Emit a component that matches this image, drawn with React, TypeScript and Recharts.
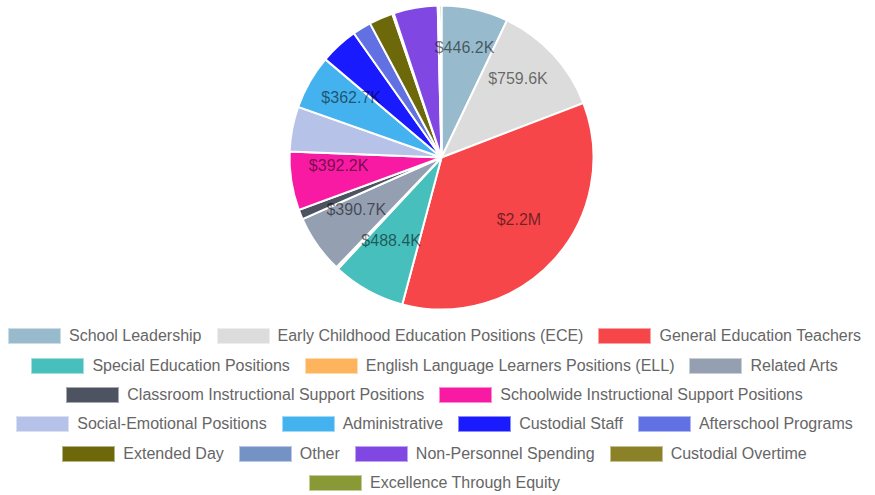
import React from 'react';
import { PieChart, Pie, Cell, Legend } from 'recharts';

const categories = [
  'School Leadership',
  'Early Childhood Education Positions (ECE)',
  'General Education Teachers',
  'Special Education Positions',
  'English Language Learners Positions (ELL)',
  'Related Arts',
  'Classroom Instructional Support Positions',
  'Schoolwide Instructional Support Positions',
  'Social-Emotional Positions',
  'Administrative',
  'Custodial Staff',
  'Afterschool Programs',
  'Extended Day',
  'Other',
  'Non-Personnel Spending',
  'Custodial Overtime',
  'Excellence Through Equity',
];

const values = [
  446200, 759600, 2200000, 488400, 15000, 390700, 65000, 392200, 300000,
  362700, 255000, 125000, 160000, 10000, 295000, 10000, 15000,
];

const colors = [
  '#97bbcd', '#dcdcdc', '#f7464a', '#46bfbd', '#fdb45c', '#949fb1', '#4d5360',
  '#f91aa3', '#b6c2e8', '#44b2ef', '#1a1aff', '#6171e4', '#6d690a', '#7592c4',
  '#8047e3', '#8b8228', '#889935',
];

const legendRowSizes = [3, 3, 2, 4, 4, 1];

const labelThreshold = 350000;

const data = categories.map((name, i) => ({ name, value: values[i], color: colors[i] }));

const fmt = (v: number) =>
  v >= 1000000 ? `$${(v / 1000000).toFixed(1)}M` : `$${(v / 1000).toFixed(1)}K`;

const RAD = Math.PI / 180;

const renderLabel = (props: any) => {
  const { cx, cy, midAngle, outerRadius, value } = props;
  if (value < labelThreshold) return null;
  const r = outerRadius * 0.685;
  const x = cx + r * Math.cos(-midAngle * RAD);
  const y = cy + r * Math.sin(-midAngle * RAD) - 8;
  return (
    <text
      x={x}
      y={y}
      textAnchor="middle"
      dominantBaseline="central"
      fill="rgba(0,0,0,0.55)"
      fontSize={16}
      fontFamily="'Liberation Sans', Arial, sans-serif"
    >
      {fmt(value)}
    </text>
  );
};

const LegendContent = () => {
  const rows: typeof data[] = [];
  let idx = 0;
  for (const n of legendRowSizes) {
    rows.push(data.slice(idx, idx + n));
    idx += n;
  }
  return (
    <div style={{ width: 869, fontFamily: "'Liberation Sans', Arial, sans-serif", fontSize: 16, color: '#666' }}>
      {rows.map((row, ri) => (
        <div
          key={ri}
          style={{ display: 'flex', justifyContent: 'center', alignItems: 'center', height: 29.4 }}
        >
          {row.map((d, i) => (
            <div
              key={d.name}
              style={{ display: 'flex', alignItems: 'center', marginLeft: i === 0 ? 0 : 15 }}
            >
              <span
                style={{
                  display: 'inline-block',
                  width: 53,
                  height: 16,
                  boxSizing: 'border-box',
                  background: d.color,
                  border: '1px solid rgba(255,255,255,0.5)',
                  marginRight: 8,
                }}
              />
              <span style={{ whiteSpace: 'nowrap' }}>{d.name}</span>
            </div>
          ))}
        </div>
      ))}
    </div>
  );
};

export default function App() {
  return (
    <div style={{ position: 'absolute', left: 0, top: 0, width: 875, height: 495, background: '#fff' }}>
      <PieChart width={875} height={495} margin={{ top: 0, right: 0, bottom: 0, left: 0 }}>
        <Pie
          data={data}
          dataKey="value"
          nameKey="name"
          cx={441.5}
          cy={157.5}
          outerRadius={152}
          startAngle={90}
          endAngle={-270}
          stroke="#fff"
          strokeWidth={2}
          label={renderLabel}
          labelLine={false}
          isAnimationActive={false}
        >
          {data.map((d) => (
            <Cell key={d.name} fill={d.color} />
          ))}
        </Pie>
        <Legend
          content={<LegendContent />}
          wrapperStyle={{ position: 'absolute', left: 0, top: 321.5, width: 869 }}
        />
      </PieChart>
    </div>
  );
}
